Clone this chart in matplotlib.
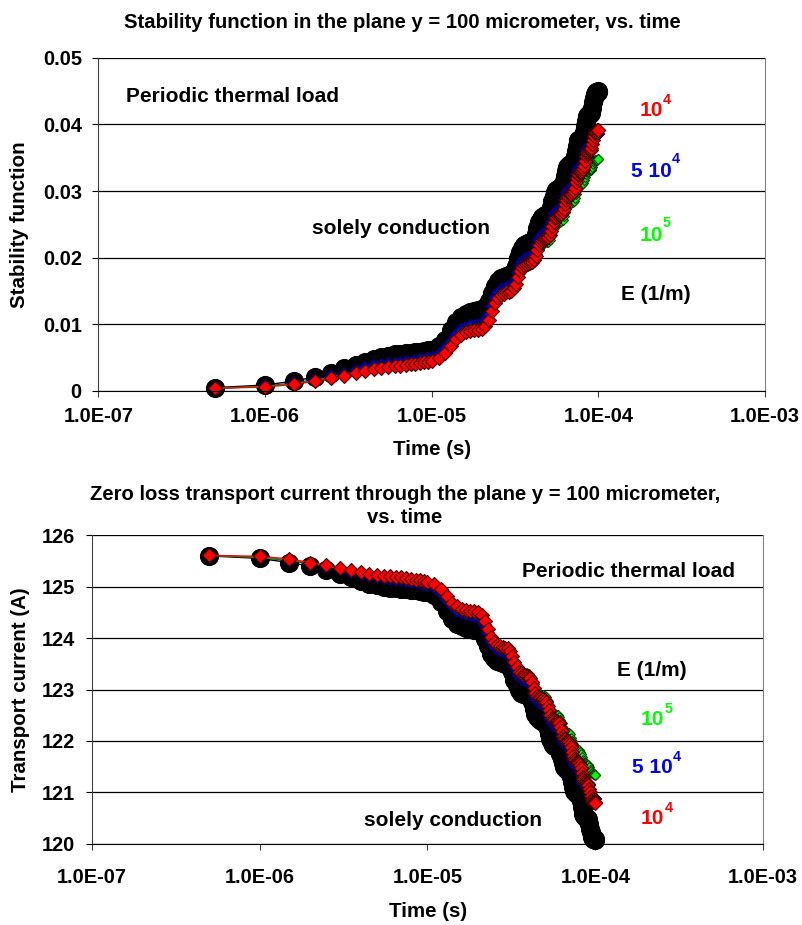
import matplotlib
matplotlib.use('Agg')
import matplotlib.pyplot as plt
import numpy as np
from matplotlib.ticker import NullLocator

# figure size in pixels (dpi 100)
W, H = 803, 925
FS_TICK = 14.4
FS_LABEL = 14.8
FS_TITLE = 14.6
FS_NOTE = 15
FS_SUP = 10.4

plt.rcParams['font.family'] = ['Liberation Sans', 'DejaVu Sans']
plt.rcParams['font.weight'] = 'bold'

# ---- data ----
# time of each sample, in microseconds
time_us = [0.5, 1, 1.5, 2, 2.5, 3, 3.5, 4, 4.5, 5, 5.5, 6, 6.5, 7, 7.5, 8, 8.5, 9, 9.5, 10,
           11, 12, 13, 14, 15, 16, 17, 18, 19, 20,
           21, 22, 23, 24, 25, 26, 27, 28, 29, 30,
           31, 32, 33, 34, 35, 36, 37, 38, 39, 40,
           41, 42, 43, 44, 45, 46, 47, 48, 49, 50,
           51, 52, 53, 54, 55, 56, 57, 58, 59, 60,
           61, 62, 63, 64, 65, 66, 67, 68, 69, 70,
           71, 72, 73, 74, 75, 76, 77, 78, 79, 80,
           81, 82, 83, 84, 85, 86, 87, 88, 89, 90,
           91, 92, 93, 94, 95, 96, 97, 98, 99, 100]

# stability function in the plane y = 100 micrometer
stab_cond = [0.0005, 0.0009, 0.0015, 0.0021, 0.0027, 0.0034, 0.0039, 0.0044, 0.0048, 0.0051,
             0.0053, 0.0055, 0.0056, 0.0057, 0.0057, 0.0058, 0.0059, 0.0060, 0.0061, 0.0062,
             0.0067, 0.0077, 0.0091, 0.0103, 0.0111, 0.0115, 0.0118, 0.0120, 0.0121, 0.0122,
             0.0126, 0.0135, 0.0147, 0.0158, 0.0165, 0.0169, 0.0171, 0.0173, 0.0174, 0.0175,
             0.0179, 0.0187, 0.0199, 0.0208, 0.0215, 0.0219, 0.0221, 0.0222, 0.0223, 0.0224,
             0.0227, 0.0235, 0.0244, 0.0253, 0.0258, 0.0261, 0.0263, 0.0264, 0.0265, 0.0266,
             0.0269, 0.0276, 0.0285, 0.0293, 0.0299, 0.0302, 0.0303, 0.0304, 0.0305, 0.0306,
             0.0309, 0.0315, 0.0323, 0.0330, 0.0336, 0.0338, 0.0339, 0.0341, 0.0341, 0.0342,
             0.0345, 0.0352, 0.0360, 0.0368, 0.0373, 0.0376, 0.0377, 0.0378, 0.0379, 0.0380,
             0.0383, 0.0389, 0.0398, 0.0405, 0.0410, 0.0413, 0.0414, 0.0416, 0.0416, 0.0417,
             0.0420, 0.0425, 0.0433, 0.0439, 0.0444, 0.0446, 0.0448, 0.0449, 0.0449, 0.0450]
stab_e1e4 = [0.0004, 0.0006, 0.0010, 0.0015, 0.0019, 0.0023, 0.0027, 0.0030, 0.0033, 0.0035,
             0.0036, 0.0037, 0.0038, 0.0039, 0.0040, 0.0041, 0.0042, 0.0043, 0.0044, 0.0045,
             0.0049, 0.0057, 0.0068, 0.0078, 0.0084, 0.0088, 0.0090, 0.0091, 0.0092, 0.0093,
             0.0098, 0.0107, 0.0120, 0.0132, 0.0140, 0.0144, 0.0146, 0.0148, 0.0149, 0.0150,
             0.0154, 0.0161, 0.0171, 0.0180, 0.0186, 0.0189, 0.0191, 0.0192, 0.0193, 0.0194,
             0.0197, 0.0203, 0.0212, 0.0219, 0.0224, 0.0227, 0.0228, 0.0230, 0.0230, 0.0231,
             0.0234, 0.0240, 0.0247, 0.0254, 0.0259, 0.0261, 0.0263, 0.0264, 0.0264, 0.0265,
             0.0268, 0.0273, 0.0280, 0.0287, 0.0291, 0.0293, 0.0295, 0.0296, 0.0296, 0.0297,
             0.0300, 0.0305, 0.0313, 0.0319, 0.0324, 0.0326, 0.0328, 0.0329, 0.0329, 0.0330,
             0.0333, 0.0338, 0.0345, 0.0352, 0.0356, 0.0358, 0.0360, 0.0361, 0.0361, 0.0362,
             0.0364, 0.0370, 0.0376, 0.0382, 0.0387, 0.0389, 0.0390, 0.0391, 0.0391, 0.0392]
stab_e5e4 = [0.0004, 0.0007, 0.0012, 0.0017, 0.0022, 0.0026, 0.0030, 0.0034, 0.0037, 0.0039,
             0.0040, 0.0041, 0.0042, 0.0043, 0.0044, 0.0045, 0.0046, 0.0047, 0.0048, 0.0050,
             0.0054, 0.0063, 0.0074, 0.0084, 0.0091, 0.0095, 0.0097, 0.0098, 0.0099, 0.0100,
             0.0105, 0.0114, 0.0127, 0.0139, 0.0147, 0.0151, 0.0153, 0.0155, 0.0156, 0.0157,
             0.0161, 0.0168, 0.0178, 0.0187, 0.0193, 0.0196, 0.0198, 0.0199, 0.0200, 0.0201,
             0.0204, 0.0210, 0.0219, 0.0226, 0.0231, 0.0234, 0.0235, 0.0237, 0.0237, 0.0238,
             0.0241, 0.0247, 0.0254, 0.0261, 0.0266, 0.0268, 0.0270, 0.0271, 0.0271, 0.0272,
             0.0274, 0.0280, 0.0287, 0.0293, 0.0297, 0.0300, 0.0301, 0.0302, 0.0302, 0.0303,
             0.0306, 0.0311, 0.0319, 0.0325, 0.0330, 0.0332, 0.0334, 0.0335, 0.0335, 0.0336,
             0.0338, 0.0344, 0.0350, 0.0356, 0.0361, 0.0363, 0.0364, 0.0365, 0.0365, 0.0366,
             0.0368, 0.0371, 0.0376, 0.0380, 0.0382, 0.0384, 0.0385, 0.0385, 0.0386, 0.0386]
stab_e1e5 = [0.0004, 0.0007, 0.0011, 0.0016, 0.0021, 0.0025, 0.0029, 0.0032, 0.0035, 0.0037,
             0.0038, 0.0039, 0.0040, 0.0041, 0.0042, 0.0043, 0.0044, 0.0045, 0.0046, 0.0048,
             0.0052, 0.0060, 0.0072, 0.0081, 0.0088, 0.0092, 0.0094, 0.0095, 0.0096, 0.0097,
             0.0101, 0.0110, 0.0122, 0.0133, 0.0140, 0.0144, 0.0146, 0.0148, 0.0149, 0.0150,
             0.0153, 0.0160, 0.0169, 0.0177, 0.0183, 0.0186, 0.0187, 0.0188, 0.0189, 0.0190,
             0.0193, 0.0199, 0.0206, 0.0213, 0.0218, 0.0220, 0.0222, 0.0223, 0.0223, 0.0224,
             0.0226, 0.0232, 0.0239, 0.0245, 0.0249, 0.0252, 0.0253, 0.0254, 0.0254, 0.0255,
             0.0257, 0.0262, 0.0268, 0.0274, 0.0278, 0.0280, 0.0281, 0.0282, 0.0282, 0.0283,
             0.0285, 0.0290, 0.0296, 0.0301, 0.0305, 0.0307, 0.0308, 0.0309, 0.0309, 0.0310,
             0.0312, 0.0316, 0.0321, 0.0325, 0.0328, 0.0330, 0.0330, 0.0331, 0.0332, 0.0332,
             0.0333, 0.0336, 0.0340, 0.0343, 0.0345, 0.0346, 0.0347, 0.0347, 0.0348, 0.0348]

# zero loss transport current through the plane (A)
cur_cond = [125.60, 125.55, 125.47, 125.40, 125.33, 125.24, 125.18, 125.11, 125.06, 125.03,
            125.00, 124.98, 124.97, 124.95, 124.95, 124.94, 124.93, 124.92, 124.90, 124.89,
            124.83, 124.71, 124.53, 124.38, 124.28, 124.23, 124.20, 124.17, 124.16, 124.15,
            124.10, 123.99, 123.84, 123.70, 123.61, 123.56, 123.54, 123.51, 123.50, 123.49,
            123.44, 123.34, 123.19, 123.08, 122.99, 122.94, 122.92, 122.91, 122.89, 122.88,
            122.85, 122.75, 122.63, 122.52, 122.46, 122.42, 122.40, 122.39, 122.37, 122.36,
            122.32, 122.24, 122.13, 122.03, 121.95, 121.92, 121.90, 121.89, 121.88, 121.87,
            121.83, 121.75, 121.65, 121.57, 121.49, 121.47, 121.46, 121.43, 121.43, 121.42,
            121.38, 121.30, 121.20, 121.10, 121.03, 121.00, 120.99, 120.97, 120.96, 120.95,
            120.91, 120.84, 120.72, 120.64, 120.58, 120.54, 120.53, 120.50, 120.50, 120.49,
            120.45, 120.39, 120.29, 120.22, 120.15, 120.13, 120.10, 120.09, 120.09, 120.08]
cur_e1e4 = [125.61, 125.59, 125.54, 125.47, 125.42, 125.37, 125.33, 125.29, 125.25, 125.23,
            125.21, 125.20, 125.19, 125.18, 125.16, 125.15, 125.14, 125.13, 125.11, 125.10,
            125.05, 124.95, 124.82, 124.69, 124.62, 124.57, 124.54, 124.53, 124.52, 124.51,
            124.44, 124.33, 124.17, 124.02, 123.92, 123.87, 123.85, 123.82, 123.81, 123.80,
            123.75, 123.66, 123.54, 123.43, 123.35, 123.32, 123.29, 123.28, 123.27, 123.25,
            123.22, 123.14, 123.03, 122.94, 122.88, 122.85, 122.83, 122.81, 122.81, 122.80,
            122.76, 122.68, 122.60, 122.51, 122.45, 122.42, 122.40, 122.39, 122.39, 122.37,
            122.34, 122.27, 122.19, 122.10, 122.05, 122.03, 122.00, 121.99, 121.99, 121.98,
            121.94, 121.88, 121.78, 121.70, 121.64, 121.62, 121.59, 121.58, 121.58, 121.57,
            121.53, 121.47, 121.38, 121.30, 121.25, 121.22, 121.20, 121.18, 121.18, 121.17,
            121.15, 121.07, 121.00, 120.92, 120.86, 120.84, 120.82, 120.81, 120.81, 120.80]
cur_e5e4 = [125.61, 125.57, 125.51, 125.45, 125.39, 125.34, 125.29, 125.24, 125.20, 125.18,
            125.16, 125.15, 125.14, 125.13, 125.11, 125.10, 125.09, 125.08, 125.06, 125.04,
            124.99, 124.88, 124.74, 124.62, 124.53, 124.48, 124.46, 124.44, 124.43, 124.42,
            124.36, 124.25, 124.09, 123.94, 123.84, 123.79, 123.76, 123.74, 123.73, 123.71,
            123.66, 123.58, 123.45, 123.34, 123.27, 123.23, 123.20, 123.19, 123.18, 123.17,
            123.13, 123.06, 122.94, 122.86, 122.80, 122.76, 122.75, 122.72, 122.72, 122.71,
            122.67, 122.60, 122.51, 122.42, 122.36, 122.34, 122.31, 122.30, 122.30, 122.29,
            122.26, 122.19, 122.10, 122.03, 121.98, 121.94, 121.93, 121.92, 121.92, 121.90,
            121.87, 121.80, 121.70, 121.63, 121.57, 121.54, 121.52, 121.51, 121.51, 121.49,
            121.47, 121.39, 121.32, 121.25, 121.18, 121.16, 121.15, 121.13, 121.13, 121.12,
            121.10, 121.06, 121.00, 120.95, 120.92, 120.90, 120.89, 120.89, 120.87, 120.87]
cur_e1e5 = [125.61, 125.57, 125.52, 125.46, 125.40, 125.35, 125.30, 125.26, 125.23, 125.20,
            125.19, 125.18, 125.16, 125.15, 125.14, 125.13, 125.11, 125.10, 125.09, 125.06,
            125.02, 124.92, 124.77, 124.66, 124.57, 124.52, 124.49, 124.48, 124.47, 124.46,
            124.41, 124.30, 124.15, 124.01, 123.92, 123.87, 123.85, 123.82, 123.81, 123.80,
            123.76, 123.68, 123.56, 123.47, 123.39, 123.35, 123.34, 123.33, 123.32, 123.30,
            123.27, 123.19, 123.11, 123.02, 122.96, 122.93, 122.91, 122.89, 122.89, 122.88,
            122.86, 122.78, 122.70, 122.62, 122.57, 122.54, 122.52, 122.51, 122.51, 122.50,
            122.47, 122.41, 122.34, 122.26, 122.21, 122.19, 122.18, 122.16, 122.16, 122.15,
            122.13, 122.06, 121.99, 121.93, 121.88, 121.85, 121.84, 121.83, 121.83, 121.82,
            121.79, 121.74, 121.68, 121.63, 121.59, 121.57, 121.57, 121.56, 121.54, 121.54,
            121.53, 121.49, 121.44, 121.41, 121.38, 121.37, 121.36, 121.36, 121.34, 121.34]

x_ticks = [1e-7, 1e-6, 1e-5, 1e-4, 1e-3]
x_ticklabels = ['1.0E-07', '1.0E-06', '1.0E-05', '1.0E-04', '1.0E-03']
stab_ticks = [0, 0.01, 0.02, 0.03, 0.04, 0.05]
stab_ticklabels = ['0', '0.01', '0.02', '0.03', '0.04', '0.05']
cur_ticks = [120, 121, 122, 123, 124, 125, 126]
cur_ticklabels = ['120', '121', '122', '123', '124', '125', '126']

time_s = np.array(time_us) * 1e-6

# marker styles: (marker, size pt, face, edge, edge width, line colour)
styles = {
    'cond': ('o', 13.0, 'black', 'black', 0.8, 'black'),
    'e5e4': ('D', 6.6, '#0000FF', '#000080', 1.2, '#000080'),
    'e1e5': ('D', 5.4, '#00FF00', '#004000', 0.8, '#00B000'),
    'e1e4': ('D', 7.2, '#FF0000', '#400000', 0.8, '#FF0000'),
}


def px(x, y):
    return x / W, 1 - y / H


def put(x, y, s, color='black', size=FS_NOTE, ha='left'):
    fx, fy = px(x, y)
    fig.text(fx, fy, s, color=color, fontsize=size, fontweight='bold',
             ha=ha, va='baseline')


def setup(ax, yticks, ylabels, xpad):
    ax.set_xscale('log')
    ax.set_xlim(1e-7, 1e-3)
    ax.set_ylim(yticks[0], yticks[-1])
    ax.set_xticks(x_ticks)
    ax.set_xticklabels(x_ticklabels)
    ax.xaxis.set_minor_locator(NullLocator())
    ax.set_yticks(yticks)
    ax.set_yticklabels(ylabels)
    ax.yaxis.grid(True, color='black', lw=0.9)
    ax.set_axisbelow(True)
    ax.spines['top'].set_visible(False)
    ax.spines['right'].set_color('#808080')
    ax.spines['left'].set_color('#404040')
    ax.tick_params(axis='y', length=4.3, width=0.8, pad=7.6, labelsize=FS_TICK)
    ax.tick_params(axis='x', length=4.3, width=0.8, pad=xpad, labelsize=FS_TICK,
                   color='#404040')


def draw(ax, series):
    # drawn in this order: conduction at the back, 10^4 on top
    for key, vals in series:
        m, ms, fc, ec, mew, lc = styles[key]
        ax.plot(time_s, vals, color=lc, lw=1.0, marker=m, ms=ms, mfc=fc,
                mec=ec, mew=mew, clip_on=False)


fig = plt.figure(figsize=(W / 100, H / 100), dpi=100)

# ---- top: stability function ----
ax1 = fig.add_axes([98.3 / W, 1 - 391 / H, 666.7 / W, 333.3 / H])
setup(ax1, stab_ticks, stab_ticklabels, 7)
draw(ax1, [('cond', stab_cond), ('e5e4', stab_e5e4), ('e1e5', stab_e1e5), ('e1e4', stab_e1e4)])

put(402, 28.3, 'Stability function in the plane y = 100 micrometer, vs. time',
    size=FS_TITLE, ha='center')
put(431.7, 455, 'Time (s)', size=FS_LABEL, ha='center')
fx, fy = px(20, 224.5)
fig.text(fx, fy, 'Stability function', rotation=90, fontsize=FS_LABEL, fontweight='bold',
         ha='center', va='center')

put(126, 101.7, 'Periodic thermal load')
put(311.7, 234, 'solely conduction')
put(639.3, 116, '10', color='red')
put(663, 104, '4', color='red', size=FS_SUP)
put(631, 176.7, '5 10', color='blue')
put(672, 163.3, '4', color='blue', size=FS_SUP)
put(639.3, 241, '10', color='#00FF00')
put(663, 227.3, '5', color='#00FF00', size=FS_SUP)
put(621, 300, 'E (1/m)')

# ---- bottom: transport current ----
ax2 = fig.add_axes([91.7 / W, 1 - 843.7 / H, 671.5 / W, 308.4 / H])
setup(ax2, cur_ticks, cur_ticklabels, 13.4)
draw(ax2, [('cond', cur_cond), ('e5e4', cur_e5e4), ('e1e5', cur_e1e5), ('e1e4', cur_e1e4)])

put(405, 500, 'Zero loss transport current through the plane y = 100 micrometer,',
    size=FS_TITLE, ha='center')
put(405, 523.3, 'vs. time', size=FS_TITLE, ha='center')
put(428, 916.7, 'Time (s)', size=FS_LABEL, ha='center')
fx, fy = px(20.7, 689.5)
fig.text(fx, fy, 'Transport current (A)', rotation=90, fontsize=FS_LABEL, fontweight='bold',
         ha='center', va='center')

put(522.3, 577.3, 'Periodic thermal load')
put(616.7, 676, 'E (1/m)')
put(641, 725.3, '10', color='#00FF00')
put(664.5, 713.3, '5', color='#00FF00', size=FS_SUP)
put(631.7, 772.7, '5 10', color='blue')
put(673, 760.7, '4', color='blue', size=FS_SUP)
put(641, 824, '10', color='red')
put(664.5, 811.7, '4', color='red', size=FS_SUP)
put(364, 826, 'solely conduction')

fig.savefig('out.png', dpi=100)
